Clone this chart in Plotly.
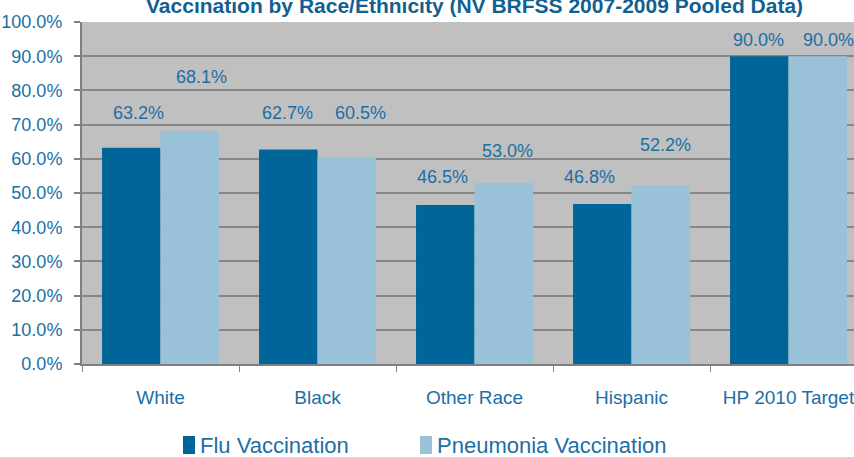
import plotly.graph_objects as go

# Vaccination rates by race/ethnicity, NV BRFSS 2007-2009 pooled
categories = ["White", "Black", "Other Race", "Hispanic", "HP 2010 Target"]
flu_vaccination = [63.2, 62.7, 46.5, 46.8, 90.0]
pneumonia_vaccination = [68.1, 60.5, 53.0, 52.2, 90.0]
y_tick_values = [0, 10, 20, 30, 40, 50, 60, 70, 80, 90, 100]
y_tick_labels = [f"{v:.1f}%" for v in y_tick_values]

# label placement: height above the bar top (percentage points) and horizontal nudge (px)
flu_label_lift = [10.2, 10.7, 8.2, 7.9, 4.7]
pneu_label_lift = [15.8, 12.9, 9.3, 11.8, 4.7]
flu_label_nudge = [7, -1, -3, -13, -1]
pneu_label_nudge = [12, 14, 4, 5, 11]

FLU_COLOR = "#006699"
PNEU_COLOR = "#99C2D8"
TEXT_COLOR = "#1B6FA5"
TITLE_COLOR = "#135F91"
FONT = "Liberation Sans, Arial, sans-serif"

L, R, T, B = 82, 854, 22, 364
plot_w = R - L
plot_h = B - T


def px_x(px):
    return (px - L) / plot_w


def px_y(py):
    return (B - py) / plot_h


fig = go.Figure()
fig.add_trace(go.Bar(name="Flu Vaccination", x=categories, y=flu_vaccination,
                     marker=dict(color=FLU_COLOR, line=dict(width=0)), showlegend=False))
fig.add_trace(go.Bar(name="Pneumonia Vaccination", x=categories, y=pneumonia_vaccination,
                     marker=dict(color=PNEU_COLOR, line=dict(width=0)), showlegend=False))

bargap = 0.255
half_bar = (1 - bargap) / 4

annotations = []
for i, cat in enumerate(categories):
    annotations.append(dict(x=i - half_bar, y=flu_vaccination[i] + flu_label_lift[i],
                            xref="x", yref="y", text=f"{flu_vaccination[i]:.1f}%",
                            showarrow=False, xshift=flu_label_nudge[i],
                            font=dict(family=FONT, size=18, color=TEXT_COLOR)))
    annotations.append(dict(x=i + half_bar, y=pneumonia_vaccination[i] + pneu_label_lift[i],
                            xref="x", yref="y", text=f"{pneumonia_vaccination[i]:.1f}%",
                            showarrow=False, xshift=pneu_label_nudge[i],
                            font=dict(family=FONT, size=18, color=TEXT_COLOR)))

# title, partly above the page edge
annotations.append(dict(x=px_x(474), y=px_y(19), xref="paper", yref="paper", xanchor="center",
                        yanchor="bottom",
                        text="<b>Vaccination by Race/Ethnicity (NV BRFSS 2007-2009 Pooled Data)</b>",
                        showarrow=False, font=dict(family=FONT, size=21, color=TITLE_COLOR)))

# legend drawn below the axis
legend_items = [("Flu Vaccination", FLU_COLOR, 183), ("Pneumonia Vaccination", PNEU_COLOR, 420)]
shapes = []
for label, color, px in legend_items:
    shapes.append(dict(type="rect", xref="paper", yref="paper",
                       x0=px_x(px), x1=px_x(px + 12), y0=px_y(454), y1=px_y(436),
                       fillcolor=color, line=dict(width=0)))
    annotations.append(dict(x=px_x(px + 15), y=px_y(445),
                            xref="paper", yref="paper", xanchor="left", yanchor="middle",
                            text=label, showarrow=False,
                            font=dict(family=FONT, size=22, color=TEXT_COLOR)))

fig.update_layout(
    width=854, height=457,
    margin=dict(l=L, r=854 - R, t=T, b=457 - B, autoexpand=False),
    paper_bgcolor="white",
    plot_bgcolor="#C0C0C0",
    barmode="group", bargap=bargap, bargroupgap=0,
    font=dict(family=FONT, size=18, color=TEXT_COLOR),
    showlegend=False,
    annotations=annotations,
    shapes=shapes,
    xaxis=dict(type="category", range=[-0.5, 4.417], showgrid=False, automargin=False,
               showline=True, linecolor="#808080", linewidth=2, tickangle=0,
               ticks="outside", tickson="boundaries", ticklen=6, tickcolor="#808080",
               tickwidth=1, tickfont=dict(family=FONT, size=19, color=TEXT_COLOR),
               ticklabelstandoff=15),
    yaxis=dict(range=[0, 100], tickvals=y_tick_values, ticktext=y_tick_labels, automargin=False,
               showgrid=True, gridcolor="#878787", gridwidth=2,
               showline=True, linecolor="#808080", linewidth=2,
               ticks="outside", ticklen=6, tickcolor="#808080", tickwidth=2,
               tickfont=dict(family=FONT, size=18, color=TEXT_COLOR),
               ticklabelstandoff=8, zeroline=False),
)

fig.write_html("out.html")
